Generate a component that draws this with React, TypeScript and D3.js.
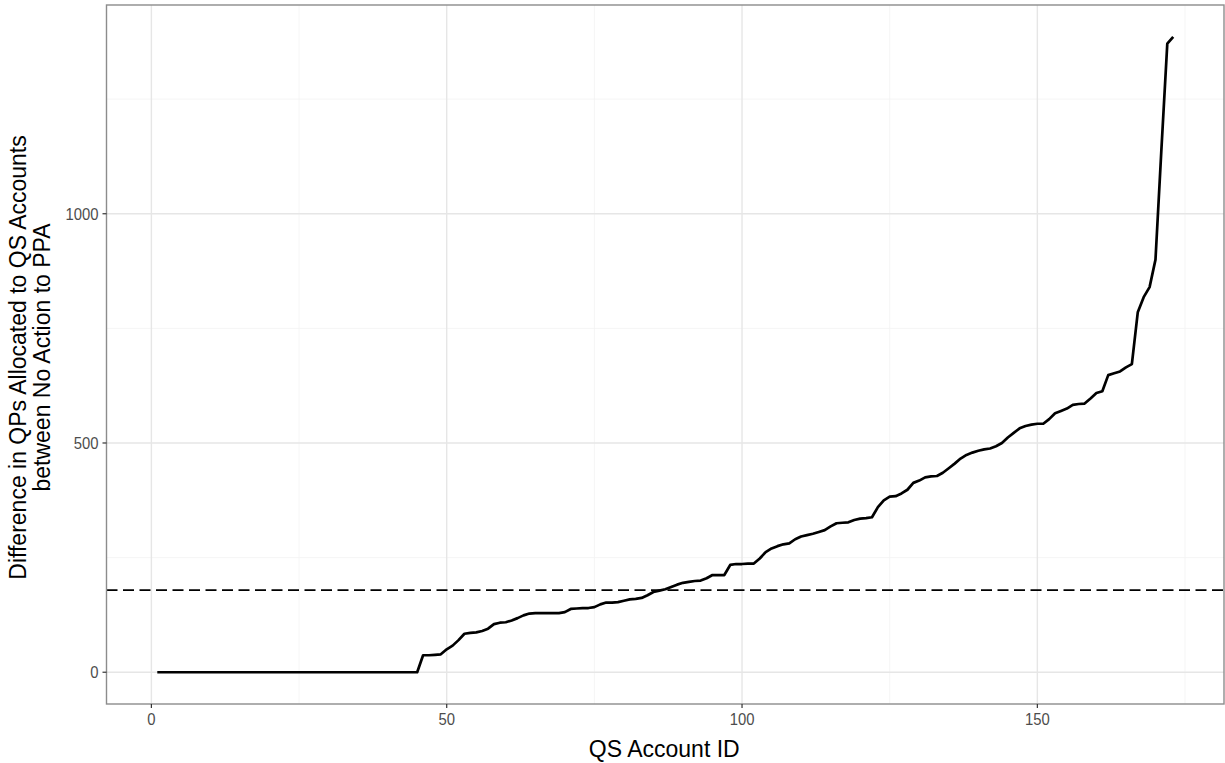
import React from "react";
import * as d3 from "d3";

// QS account ids 1..173 (sorted by difference)
const zeroCount = 45;
const risingValues: number[] = [
  37, 37, 38, 39, 50, 58, 70, 84, 86, 87, // 46-55
  90, 95, 105, 108, 109, 113, 118, 124, 128, 129, // 56-65
  129, 129, 129, 129, 131, 138, 139, 140, 140, 142, // 66-75
  148, 152, 152, 153, 156, 159, 160, 162, 168, 175, // 76-85
  178, 181, 186, 191, 195, 197, 199, 200, 205, 212, // 86-95
  212, 212, 234, 236, 236, 237, 237, 248, 262, 270, // 96-105
  275, 279, 281, 290, 296, 299, 302, 306, 310, 318, // 106-115
  325, 326, 327, 332, 335, 336, 338, 360, 375, 383, // 116-125
  384, 390, 398, 413, 418, 425, 427, 428, 435, 445, // 126-135
  455, 466, 474, 479, 483, 486, 488, 493, 500, 512, // 136-145
  522, 532, 537, 540, 542, 542, 552, 565, 570, 575, // 146-155
  583, 585, 586, 597, 609, 613, 648, 652, 656, 665, // 156-165
  672, 785, 818, 840, 900, 1140, 1371, 1386, // 166-173
];
const differences: number[] = [...Array(zeroCount).fill(0), ...risingValues];
const accountIds: number[] = differences.map((_, i) => i + 1);
const referenceLine = 179;

const xMajorTicks = [0, 50, 100, 150];
const xMinorTicks = [25, 75, 125, 175];
const yMajorTicks = [0, 500, 1000];
const yMinorTicks = [250, 750, 1250];

const xTitle = "QS Account ID";
const yTitleLines = ["Difference in QPs Allocated to QS Accounts", "between No Action to PPA"];

export default function App() {
  const W = 1225;
  const H = 763;
  const left = 106.5;
  const right = 1224;
  const top = 5;
  const bottom = 704;

  const xMin = d3.min(accountIds)!;
  const xMax = d3.max(accountIds)!;
  const xPad = (xMax - xMin) * 0.05;
  const yMax = d3.max(differences)!;
  const yPad = yMax * 0.05;

  const x = d3.scaleLinear().domain([xMin - xPad, xMax + xPad]).range([left, right]);
  const y = d3.scaleLinear().domain([0 - yPad, yMax + yPad]).range([bottom, top]);

  const data = accountIds.map((id, i) => [id, differences[i]] as [number, number]);
  const line = d3
    .line<[number, number]>()
    .x((d) => x(d[0]))
    .y((d) => y(d[1]));

  const font = "'Liberation Sans', Arial, sans-serif";
  const sx = 0.9;

  return (
    <svg width={W} height={H} style={{ position: "absolute", left: 0, top: 0, background: "#fff" }}>
      <rect x={0} y={0} width={W} height={H} fill="#fff" />
      {/* minor grid */}
      {xMinorTicks.map((t) => (
        <line key={"xm" + t} x1={x(t)} x2={x(t)} y1={top} y2={bottom} stroke="#f2f2f2" strokeWidth={0.8} />
      ))}
      {yMinorTicks.map((t) => (
        <line key={"ym" + t} x1={left} x2={right} y1={y(t)} y2={y(t)} stroke="#f2f2f2" strokeWidth={0.8} />
      ))}
      {/* major grid */}
      {xMajorTicks.map((t) => (
        <line key={"xM" + t} x1={x(t)} x2={x(t)} y1={top} y2={bottom} stroke="#e6e6e6" strokeWidth={1.4} />
      ))}
      {yMajorTicks.map((t) => (
        <line key={"yM" + t} x1={left} x2={right} y1={y(t)} y2={y(t)} stroke="#e6e6e6" strokeWidth={1.4} />
      ))}
      {/* reference line */}
      <line
        x1={left}
        x2={right}
        y1={y(referenceLine)}
        y2={y(referenceLine)}
        stroke="#000"
        strokeWidth={1.6}
        strokeDasharray="11,5.5"
      />
      {/* data line */}
      <path d={line(data)!} fill="none" stroke="#000" strokeWidth={2.7} strokeLinejoin="round" />
      {/* panel border */}
      <rect x={left} y={top} width={right - left} height={bottom - top} fill="none" stroke="#8c8c8c" strokeWidth={1.4} />
      {/* x axis ticks */}
      {xMajorTicks.map((t) => (
        <g key={"xt" + t}>
          <line x1={x(t)} x2={x(t)} y1={bottom} y2={bottom + 4} stroke="#333" strokeWidth={1.2} />
          <text
            transform={`translate(${x(t)}, ${bottom + 20.5}) scale(${sx}, 1)`}
            textAnchor="middle"
            fontFamily={font}
            fontSize={16.5}
            fill="#4d4d4d"
          >
            {t}
          </text>
        </g>
      ))}
      {yMajorTicks.map((t) => (
        <g key={"yt" + t}>
          <line x1={left - 4} x2={left} y1={y(t)} y2={y(t)} stroke="#333" strokeWidth={1.2} />
          <text
            transform={`translate(${left - 8}, ${y(t)}) scale(${sx}, 1)`}
            dy="0.36em"
            textAnchor="end"
            fontFamily={font}
            fontSize={16.5}
            fill="#4d4d4d"
          >
            {t}
          </text>
        </g>
      ))}
      {/* axis titles */}
      <text x={(left + right) / 2 - 1} y={757} textAnchor="middle" fontFamily={font} fontSize={23} fill="#000">
        {xTitle}
      </text>
      <g transform={`translate(0, ${(top + bottom) / 2 + 3}) rotate(-90)`}>
        {yTitleLines.map((s, i) => (
          <text key={i} x={0} y={26 + i * 24} textAnchor="middle" fontFamily={font} fontSize={23} fill="#000">
            {s}
          </text>
        ))}
      </g>
    </svg>
  );
}
